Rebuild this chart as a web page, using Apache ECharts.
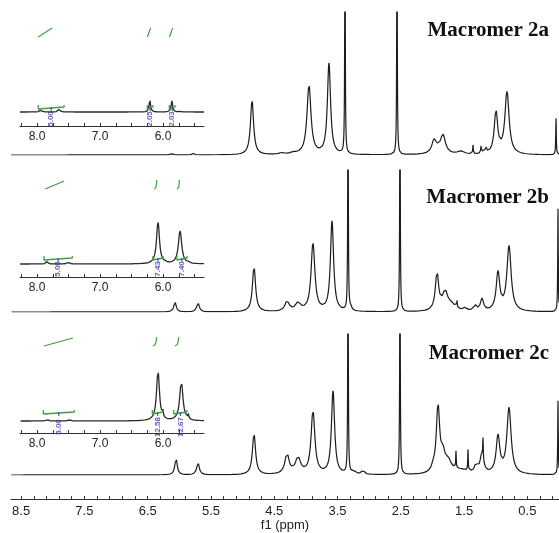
<!DOCTYPE html>
<html><head><meta charset="utf-8">
<script src="https://cdn.jsdelivr.net/npm/echarts@6/dist/echarts.min.js"></script>
<style>html,body{margin:0;padding:0;background:#fff}#c{width:559px;height:533px}</style>
</head><body><div id="c"></div>
<script>
// ---------- DATA ----------
// main spectra peaks: [ppm, height, half-width (ppm)]
const peaksA = [
  [6.116,1.5,0.02],[5.784,1.5,0.02],
  [4.851,54,0.03],[4.38,1.5,0.05],[4.20,1.5,0.05],
  [3.951,69,0.038],[3.635,91,0.03],[3.382,260,0.005],
  [2.560,260,0.005],
  [1.975,12,0.04],[1.833,17,0.045],[1.90,4,0.1],[1.55,3,0.06],
  [1.359,9,0.005],[1.233,7,0.006],[1.19,3,0.02],[1.154,6,0.009],
  [0.996,42,0.033],[0.822,62,0.04],[0.047,38,0.005]
];
const peaksB = [
  [6.068,10,0.022],[5.705,9,0.025],
  [4.820,45,0.03],[4.298,10,0.04],[4.125,8,0.05],
  [3.888,68,0.036],[3.587,90,0.03],[3.334,260,0.005],[3.29,3,0.02],
  [2.513,260,0.005],
  [1.928,37,0.032],[1.801,18,0.05],[1.70,6,0.08],[1.612,8,0.005],
  [1.485,3,0.03],[1.327,6,0.025],[1.217,12,0.03],
  [0.964,38,0.034],[0.790,65,0.04],[0.016,103,0.005]
];
const peaksC = [
  [6.052,17,0.022],[5.705,12,0.025],
  [4.820,41,0.03],[4.298,20,0.04],[4.125,16,0.05],
  [3.888,63,0.036],[3.571,83,0.03],[3.334,260,0.005],
  [3.24,3,0.03],[3.097,4,0.025],
  [2.513,260,0.005],
  [1.991,4,0.03],[1.912,66,0.032],[1.833,16,0.04],[1.75,11,0.06],
  [1.55,4,0.15],[1.628,17,0.005],[1.438,21,0.005],[1.312,8,0.025],
  [1.22,18,0.035],[1.201,22,0.005],
  [0.964,37,0.035],[0.790,66,0.04],[0.016,74,0.005]
];
// inset spectra peaks: [ppm, height, half-width]
const insetPeaksA = [[7.94,2,0.02],[7.65,2.5,0.02],[6.21,12,0.014],[5.86,11,0.014],[5.73,1.5,0.01]];
const insetPeaksB = [[7.84,3,0.015],[7.51,3,0.015],[6.08,42,0.028],[5.73,33,0.032],[5.97,2,0.008],[5.59,2,0.008]];
const insetPeaksC = [[7.84,2,0.015],[7.49,2,0.015],[6.08,50,0.028],[5.71,39,0.032],[6.00,6,0.006],[5.60,5,0.006]];
// integration regions: [from ppm, to ppm, label]
const integA = [[7.98,7.57,'5.00'],[6.25,6.16,'2.05'],[5.90,5.81,'2.03']];
const integB = [[7.89,7.44,'5.00'],[6.16,6.00,'7.43'],[5.78,5.62,'7.40']];
const integC = [[7.90,7.41,'5.00'],[6.17,6.00,'12.58'],[5.83,5.62,'12.67']];
const integLevel = [5, 6, 9];
const integLabelLevel = [-7, -5, -6];
// integral traces: [ppm, value]
const traceA = [
  [[7.98,75],[7.76,84]],
  [[6.25,75],[6.23,78],[6.21,82],[6.19,84]],
  [[5.90,75],[5.88,78],[5.86,82],[5.84,84]]
];
const traceB = [
  [[7.87,75],[7.57,83]],
  [[6.14,75],[6.115,76.5],[6.105,80],[6.10,84]],
  [[5.78,75],[5.755,76.5],[5.745,80],[5.74,84]]
];
const traceC = [
  [[7.89,75],[7.43,83]],
  [[6.16,75],[6.125,76.5],[6.11,80],[6.10,84]],
  [[5.81,75],[5.775,76.5],[5.76,80],[5.75,84]]
];
const titles = ['Macromer 2a','Macromer 2b','Macromer 2c'];
const mainLabels = [8.5,7.5,6.5,5.5,4.5,3.5,2.5,1.5,0.5];
const mainTicks = [8.5,8.3,8.1,7.9,7.7,7.5,7.3,7.1,6.9,6.7,6.5,6.3,6.1,5.9,5.7,5.5,5.3,5.1,4.9,4.7,4.5,4.3,4.1,3.9,3.7,3.5,3.3,3.1,2.9,2.7,2.5,2.3,2.1,1.9,1.7,1.5,1.3,1.1,0.9,0.7,0.5,0.3,0.1];
const insetLabels = [8.0,7.0,6.0];
const insetTicks = [8.25,8.0,7.75,7.5,7.25,7.0,6.75,6.5,6.25,6.0,5.75,5.5];

// ---------- BUILD ----------
function spectrum(peaks, lo, hi, step){
  const xs = [];
  for (let x = lo; x <= hi + 1e-9; x += step) xs.push(+x.toFixed(4));
  peaks.forEach(p => { if (p[0] >= lo && p[0] <= hi) xs.push(p[0]); });
  xs.sort((a,b)=>a-b);
  return xs.map(x => {
    let y = 0;
    for (const p of peaks) { const d = (x - p[0]) / p[2]; y += p[1] / (1 + d*d); }
    return [x, y];
  });
}
const MAIN_MIN = 0, MAIN_MAX = 8.66, IN_MIN = 5.35, IN_MAX = 8.27;
const mainGrids = [
  {left:11, width:548, top:12, height:143},
  {left:11, width:548, top:170, height:142},
  {left:11, width:548, top:334, height:141}
];
const insetGrids = [
  {left:20, width:184, top:20, height:106, ymin:-14},
  {left:20, width:184, top:175, height:102, ymin:-13},
  {left:20, width:184, top:330, height:103, ymin:-12}
];
const grid = [], xAxis = [], yAxis = [], series = [];
const LINE = '#1c1c1c', GREEN = '#3f9f3f', BLUE = '#3a3ab0';
mainGrids.forEach((g,i) => {
  grid.push({left:g.left, width:g.width, top:g.top, height:g.height});
  xAxis.push({type:'value', gridIndex:i, min:MAIN_MIN, max:MAIN_MAX, inverse:true, show:false});
  yAxis.push({type:'value', gridIndex:i, min:0, max:g.height, show:false});
});
// axis grid (index 3)
grid.push({left:11, width:548, top:480, height:25});
xAxis.push({type:'value', gridIndex:3, min:MAIN_MIN, max:MAIN_MAX, inverse:true,
  name:'f1 (ppm)', nameLocation:'middle', nameGap:16,
  nameTextStyle:{fontFamily:'Liberation Sans', fontSize:13, color:'#222'},
  axisLine:{show:true, lineStyle:{color:'#333', width:1}},
  axisTick:{show:true, inside:true, length:3, customValues:mainTicks, lineStyle:{color:'#333'}},
  axisLabel:{show:true, customValues:mainLabels, margin:6, fontFamily:'Liberation Sans', fontSize:13, color:'#222',
    formatter: v => v.toFixed(1)},
  splitLine:{show:false}});
yAxis.push({type:'value', gridIndex:3, min:0, max:1, show:false});
insetGrids.forEach((g,i) => {
  const gi = 4 + i;
  grid.push({left:g.left, width:g.width, top:g.top, height:g.height});
  xAxis.push({type:'value', gridIndex:gi, min:IN_MIN, max:IN_MAX, inverse:true,
    axisLine:{show:true, onZero:false, lineStyle:{color:'#333', width:1.2}},
    axisTick:{show:true, inside:true, length:3, customValues:insetTicks, lineStyle:{color:'#333'}},
    axisLabel:{show:true, customValues:insetLabels, margin:5, fontFamily:'Liberation Sans', fontSize:12, color:'#222',
      formatter: v => v.toFixed(1)},
    splitLine:{show:false}});
  yAxis.push({type:'value', gridIndex:gi, min:g.ymin, max:g.ymin + g.height, show:false});
});
const mainPeaks = [peaksA, peaksB, peaksC];
mainPeaks.forEach((pk,i) => {
  series.push({type:'line', xAxisIndex:i, yAxisIndex:i, data:spectrum(pk, MAIN_MIN, MAIN_MAX, 0.002),
    showSymbol:false, symbol:'none', clip:true, lineStyle:{color:LINE, width:1.2}, silent:true});
});
const insetPeaks = [insetPeaksA, insetPeaksB, insetPeaksC];
const integs = [integA, integB, integC];
const traces = [traceA, traceB, traceC];
insetPeaks.forEach((pk,i) => {
  const ai = 4 + i;
  series.push({type:'line', xAxisIndex:ai, yAxisIndex:ai, data:spectrum(pk, IN_MIN, IN_MAX, 0.002),
    showSymbol:false, symbol:'none', clip:true, lineStyle:{color:'#2a2a2a', width:1.3}, silent:true});
  const lv = integLevel[i], ll = integLabelLevel[i];
  integs[i].forEach(r => {
    const [a,b,lab] = r;
    series.push({type:'line', xAxisIndex:ai, yAxisIndex:ai, symbol:'none', silent:true,
      lineStyle:{color:GREEN, width:1.3},
      data:[[a,lv+2],[a,lv-2],[a,lv],[b,lv],[b,lv+2],[b,lv-2]]});
    const mid = (a+b)/2;
    series.push({type:'line', xAxisIndex:ai, yAxisIndex:ai, symbol:'none', silent:true,
      lineStyle:{color:BLUE, width:1}, data:[[mid,lv],[mid,lv-4]]});
    series.push({type:'scatter', xAxisIndex:ai, yAxisIndex:ai, symbolSize:0, silent:true,
      data:[[mid, ll]],
      label:{show:true, position:'inside', rotate:90, formatter:lab, color:BLUE,
        fontFamily:'Liberation Sans', fontSize:8, fontWeight:'bold'}});
  });
  traces[i].forEach(t => {
    series.push({type:'line', xAxisIndex:ai, yAxisIndex:ai, symbol:'none', silent:true, smooth:0.3,
      lineStyle:{color:GREEN, width:1.2}, data:t});
  });
});
const titleTops = [15, 182, 338];
const title = titles.map((t,i) => ({text:t, right:5, top:titleTops[i],
  textStyle:{fontFamily:'Liberation Serif', fontWeight:'bold', fontSize:21, color:'#111'}}));

const chart = echarts.init(document.getElementById('c'), null, {renderer:'canvas'});
chart.setOption({animation:false, backgroundColor:'#fff', title, grid, xAxis, yAxis, series});
</script></body></html>
